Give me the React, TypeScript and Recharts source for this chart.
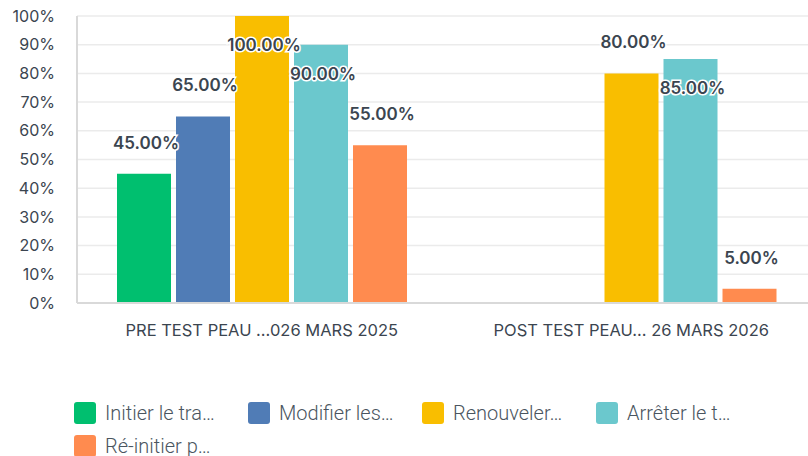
import React from 'react';
import { BarChart, Bar, XAxis, YAxis, CartesianGrid, Legend, LabelList } from 'recharts';

const categories = ['PRE TEST PEAU …026 MARS 2025', 'POST TEST PEAU… 26 MARS 2026'];
const seriesNames = ['Initier le tra…', 'Modifier les…', 'Renouveler…', 'Arrêter le t…', 'Ré-initier p…'];
const seriesColors = ['#00BF6F', '#507CB6', '#F9BE00', '#6BC8CD', '#FF8B4F'];
const initierValues = [45, null];
const modifierValues = [65, null];
const renouvelerValues = [100, 80];
const arreterValues = [90, 85];
const reinitierValues = [55, 5];
const yTicks = [0, 10, 20, 30, 40, 50, 60, 70, 80, 90, 100];

const seriesValues = [initierValues, modifierValues, renouvelerValues, arreterValues, reinitierValues];

const data = categories.map((name, i) => {
  const row: any = { name };
  seriesValues.forEach((vals, s) => {
    row['s' + s] = vals[i];
  });
  return row;
});

const TEXT = '#3b4550';

// labels go above the bar, except tall bars where they sit inside
const renderLabel = (props: any) => {
  const { x, y, width, value } = props;
  if (value === null || value === undefined) return null;
  const above = value <= 80;
  const cy = above ? y - 31 : y + 29;
  return (
    <text
      x={x + width / 2 + 2}
      y={cy}
      textAnchor="middle"
      dominantBaseline="central"
      fontSize={17}
      fontWeight={600}
      fill={TEXT}
      stroke="#fff"
      strokeWidth={3}
      paintOrder="stroke"
      fontFamily="Inter, sans-serif"
    >
      {value.toFixed(2)}%
    </text>
  );
};

const renderLegend = () => (
  <div style={{ display: 'flex', flexWrap: 'wrap', width: 730, fontFamily: 'Roboto, sans-serif' }}>
    {seriesNames.map((n, i) => (
      <div key={n} style={{ display: 'flex', alignItems: 'center', width: 174, height: 33 }}>
        <span
          style={{
            display: 'inline-block',
            width: 22,
            height: 22,
            borderRadius: 3,
            background: seriesColors[i],
            marginRight: 9,
            flexShrink: 0,
          }}
        />
        <span style={{ fontSize: 20, fontWeight: 300, color: '#4a5560', whiteSpace: 'nowrap' }}>{n}</span>
      </div>
    ))}
  </div>
);

export default function App() {
  return (
    <div style={{ position: 'absolute', left: 0, top: 0, width: 808, height: 456, overflow: 'hidden', background: '#fff' }}>
      <BarChart
        width={830}
        height={456}
        data={data}
        margin={{ top: 16, right: 14, left: 0, bottom: 113 }}
        barCategoryGap={40}
        barGap={5}
      >
        <CartesianGrid vertical={false} stroke="#ebebeb" strokeWidth={1.5} />
        <XAxis
          dataKey="name"
          height={40}
          tickLine={false}
          axisLine={{ stroke: '#d9d9d9', strokeWidth: 2 }}
          tick={{ fill: TEXT, fontSize: 16.5, fontFamily: 'Inter, sans-serif' }}
          tickMargin={15}
          interval={0}
        />
        <YAxis
          width={77}
          domain={[0, 100]}
          ticks={yTicks}
          tickFormatter={(v) => `${v}%`}
          tickLine={false}
          axisLine={{ stroke: '#d9d9d9', strokeWidth: 2 }}
          tick={{ fill: TEXT, fontSize: 16, fontFamily: 'Inter, sans-serif' }}
          tickMargin={16}
          interval={0}
        />
        <Legend
          layout="horizontal"
          verticalAlign="middle"
          align="center"
          content={renderLegend}
          wrapperStyle={{ top: 396, left: 74, width: 730 }}
        />
        {seriesNames.map((n, i) => (
          <Bar key={n} dataKey={'s' + i} name={n} fill={seriesColors[i]} isAnimationActive={false}>
            <LabelList dataKey={'s' + i} content={renderLabel} />
          </Bar>
        ))}
      </BarChart>
    </div>
  );
}
